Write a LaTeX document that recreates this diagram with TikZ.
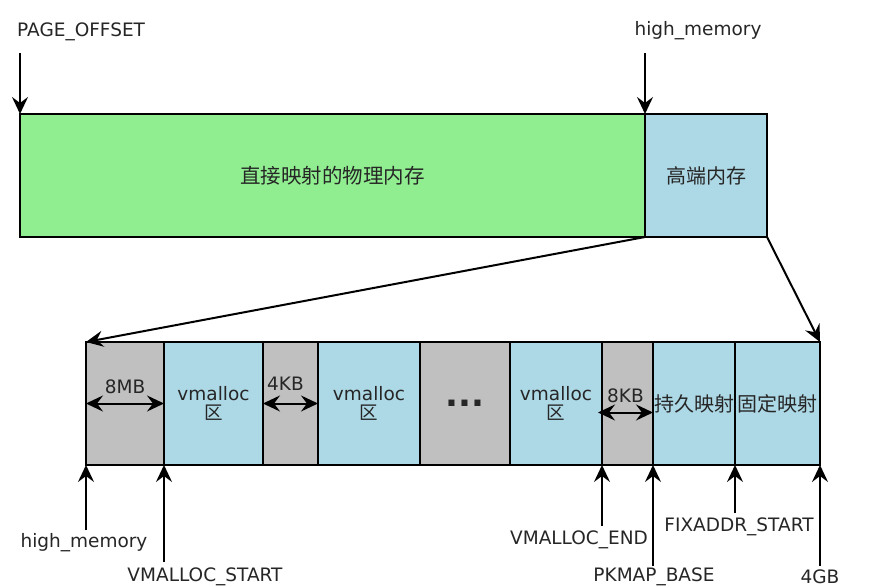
\documentclass[tikz,border=0pt]{standalone}
\usepackage{fontspec}
\setmainfont{DejaVu Sans}
\newfontfamily\cjk{Noto Sans CJK SC}
\usetikzlibrary{arrows.meta}
\definecolor{lowgreen}{RGB}{144,238,144}
\definecolor{highblue}{RGB}{173,216,230}
\definecolor{gapgray}{RGB}{192,192,192}
\begin{document}
\begin{tikzpicture}[
  x=1pt, y=-1pt, font=\fontsize{18.5}{21}\selectfont, text=black!85,
  blk/.style={draw, line width=2pt, inner sep=0pt, outer sep=0pt, anchor=north west, minimum height=123pt, align=center},
  gapblk/.style={blk, fill=gapgray},
  vblk/.style={blk, fill=highblue},
  arr/.style={line width=2pt, -{Stealth[length=17pt, width=16pt, inset=6pt]}},
  dbl/.style={line width=2pt, {Stealth[length=17pt, width=16pt, inset=6pt]}-{Stealth[length=17pt, width=16pt, inset=6pt]}},
  lbl/.style={inner sep=1pt},
  zh/.style={font=\fontsize{20}{22}\selectfont\cjk}
]
\useasboundingbox[fill=white] (0,0) rectangle (894,588);
% ---------------- top: whole kernel space ----------------
\node[blk, fill=lowgreen, minimum width=625pt] (direct) at (20,114) {\fontsize{20.5}{22}\selectfont\cjk 直接映射的物理内存};
\node[blk, fill=highblue, minimum width=122pt, zh] (high) at (645,114) {高端内存};
\node[lbl, anchor=west] (po) at (16,32) {PAGE\_OFFSET};
\node[lbl] (hm) at (698,31) {high\_memory};
\coordinate (po tail) at (20,53);
\coordinate (hm tail) at (645,53);
\draw[arr] (po tail) -- (direct.north west);
\draw[arr] (hm tail) -- (direct.north east);
% ---------------- bottom: high memory zoomed in ----------------
\node[gapblk, minimum width=78pt] (g1) at (86,342) {};
\node[vblk, minimum width=99pt] (v1) at (164,342) {vmalloc\\[-2pt]{\cjk 区}};
\node[gapblk, minimum width=55pt] (g2) at (263,342) {};
\node[vblk, minimum width=102pt] (v2) at (318,342) {vmalloc\\[-2pt]{\cjk 区}};
\node[gapblk, minimum width=90pt] (g3) at (420,342) {\fontsize{34}{34}\selectfont\textbf{...}};
\node[vblk, minimum width=92pt] (v3) at (510,342) {vmalloc\\[-2pt]{\cjk 区}};
\node[gapblk, minimum width=51pt] (g4) at (602,342) {};
\node[vblk, minimum width=82pt, zh] (v4) at (653,342) {持久映射};
\node[vblk, minimum width=85pt, zh] (v5) at (735,342) {固定映射};
\draw[arr] (direct.south east) -- (g1.north west);
\draw[arr] (high.south east) -- (v5.north east);
% gaps
\draw[dbl] (g1.west) -- node[lbl, above=8pt] {8MB} (g1.east);
\draw[dbl] (g2.west) -- node[lbl, above=11pt, xshift=-5pt] {4KB} (g2.east);
\draw[dbl] ([xshift=-4pt, yshift=-9pt]g4.west) -- node[lbl, above=8pt] {8KB} ([yshift=-9pt]g4.east);
% ---------------- bottom labels ----------------
\node[lbl] (hm2) at (84,543) {high\_memory};
\node[lbl] (vs) at (205,577) {VMALLOC\_START};
\node[lbl] (ve) at (579,540) {VMALLOC\_END};
\node[lbl] (pk) at (654,577) {PKMAP\_BASE};
\node[lbl] (fx) at (739,527) {FIXADDR\_START};
\node[lbl] (top) at (820,577) {4GB};
\coordinate (hm2 tail) at (86,530);
\coordinate (vs tail) at (164,562);
\coordinate (ve tail) at (602,526);
\coordinate (pk tail) at (653,566);
\coordinate (fx tail) at (735,513);
\coordinate (top tail) at (820,566);
\draw[arr] (hm2 tail) -- (g1.south west);
\draw[arr] (vs tail) -- (v1.south west);
\draw[arr] (ve tail) -- (g4.south west);
\draw[arr] (pk tail) -- (v4.south west);
\draw[arr] (fx tail) -- (v5.south west);
\draw[arr] (top tail) -- (v5.south east);
\end{tikzpicture}
\end{document}
